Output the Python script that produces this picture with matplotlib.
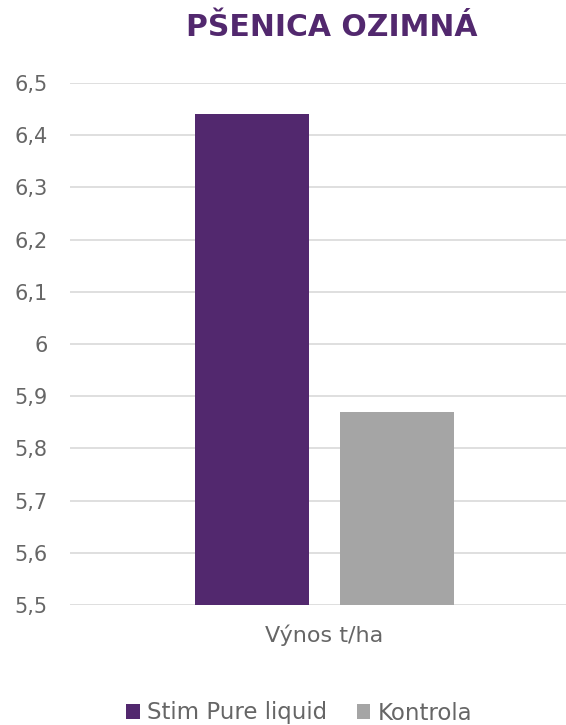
import matplotlib
matplotlib.use("Agg")
import matplotlib.pyplot as plt

# data
category = ["Výnos t/ha"]
series_names = ["Stim Pure liquid", "Kontrola"]
series_values = [6.44, 5.87]
series_colors = ["#52286E", "#A5A5A5"]
y_ticks = [5.5, 5.6, 5.7, 5.8, 5.9, 6.0, 6.1, 6.2, 6.3, 6.4, 6.5]

plt.rcParams["font.family"] = ["DejaVu Sans"]

fig = plt.figure(figsize=(5.66, 7.25), dpi=100)
ax = fig.add_axes([70 / 566, 1 - 605 / 725, 509 / 566, 522 / 725])

bar_w = 0.224
offsets = [-0.1424, 0.1424]
for name, val, col, off in zip(series_names, series_values, series_colors, offsets):
    ax.bar(0 + off, val - 5.5, bottom=5.5, width=bar_w, color=col, label=name, zorder=3)

ax.set_xlim(-0.5, 0.5)
ax.set_ylim(5.5, 6.5)
ax.set_yticks(y_ticks)
ax.set_yticklabels([("%g" % t).replace(".", ",") for t in y_ticks])
ax.set_xticks([0])
ax.set_xticklabels(category)
ax.grid(axis="y", color="#D9D9D9", linewidth=1.2, zorder=0)
for s in ax.spines.values():
    s.set_visible(False)
ax.tick_params(axis="y", length=0, pad=16, labelsize=15, labelcolor="#666666")
ax.tick_params(axis="x", length=0, pad=14, labelsize=16, labelcolor="#666666")

fig.text(332 / 566, 1 - 28 / 725, "PŠENICA OZIMNÁ", ha="center", va="center",
         fontsize=21.5, fontweight="bold", color="#52286E")

fig.legend(loc="center", bbox_to_anchor=(299 / 566, 1 - 713 / 725), ncol=2,
           frameon=False, fontsize=16.5, labelcolor="#666666",
           handlelength=0.6, handleheight=0.6, handletextpad=0.3, columnspacing=1.3)

fig.savefig("out.png", dpi=100)
